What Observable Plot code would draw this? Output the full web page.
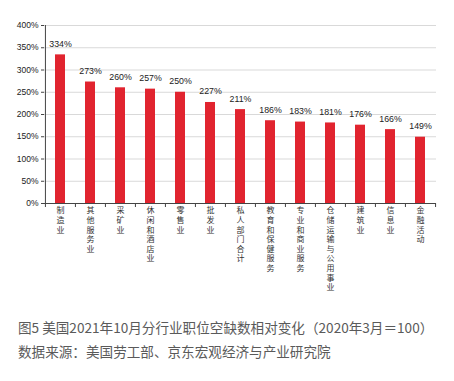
<!DOCTYPE html>
<html><head><meta charset="utf-8">
<script src="https://cdn.jsdelivr.net/npm/d3@7"></script>
<script src="https://cdn.jsdelivr.net/npm/@observablehq/plot@0.6"></script>
<style>
body{margin:0;background:#fff;width:454px;height:381px;overflow:hidden;font-family:"Noto Sans CJK SC",sans-serif;}
#chart svg{display:block}
.cap{position:absolute;left:18px;color:#5a5a5a;font-size:13.6px;white-space:nowrap;letter-spacing:0px}
</style></head>
<body>
<div id="chart"></div>
<div class="cap" style="top:317px">图5 美国2021年10月分行业职位空缺数相对变化（2020年3月＝100）</div>
<div class="cap" style="top:341px">数据来源：美国劳工部、京东宏观经济与产业研究院</div>
<script>
const categories = ["制造业","其他服务业","采矿业","休闲和酒店业","零售业","批发业","私人部门合计","教育和保健服务","专业和商业服务","仓储运输与公用事业","建筑业","信息业","金融活动"];
const values = [334,273,260,257,250,227,211,186,183,181,176,166,149];
const yTicks = [0,50,100,150,200,250,300,350,400];

const data = categories.map((c,i)=>({cat:c, v:values[i]/100}));
const W = 454, H = 310, mL = 44, mR = 18;
const step = (W - mL - mR) / categories.length;
const pct = d => Math.round(d*100) + "%";

const plot = Plot.plot({
  width: W, height: H,
  marginLeft: mL, marginRight: mR, marginTop: 25, marginBottom: H - 203,
  style: {fontFamily: "Liberation Sans, Arial, sans-serif", fontSize: "8.5px", color: "#222", background: "#fff"},
  x: {domain: categories, paddingInner: 0.68, paddingOuter: 0.34, axis: null},
  y: {domain: [0, 4], label: null},
  marks: [
    Plot.gridY(yTicks.map(t=>t/100), {stroke: "#d9d9d9", strokeOpacity: 1}),
    Plot.axisY(yTicks.map(t=>t/100), {tickSize: 3, tickPadding: 3, tickFormat: pct, label: null, stroke: "#444"}),
    Plot.barY(data, {x: "cat", y: "v", fill: "#e1242f"}),
    Plot.ruleX(categories, {x: d=>d, y1: 0, y2: 0, dx: -step/2, insetBottom: -4, stroke: "#444"}),
    Plot.ruleX([categories[categories.length-1]], {x: d=>d, y1: 0, y2: 0, dx: step/2, insetBottom: -4, stroke: "#444"}),
    Plot.ruleX([categories[0]], {x: d=>d, dx: -step/2, stroke: "#444"}),
    Plot.ruleY([0], {stroke: "#444"}),
    Plot.text(data, {x: "cat", y: "v", text: d => pct(d.v), lineAnchor: "bottom", dy: -8, fill: "#222", fontSize: 8.8}),
    Plot.text(data, {x: "cat", text: d => d.cat.split("").join("\n"), frameAnchor: "bottom", lineAnchor: "top", dy: 3, lineHeight: 1.2, fill: "#333", fontSize: 8, fontFamily: "Noto Sans CJK SC"})
  ]
});
document.getElementById("chart").appendChild(plot);
</script>
</body></html>
